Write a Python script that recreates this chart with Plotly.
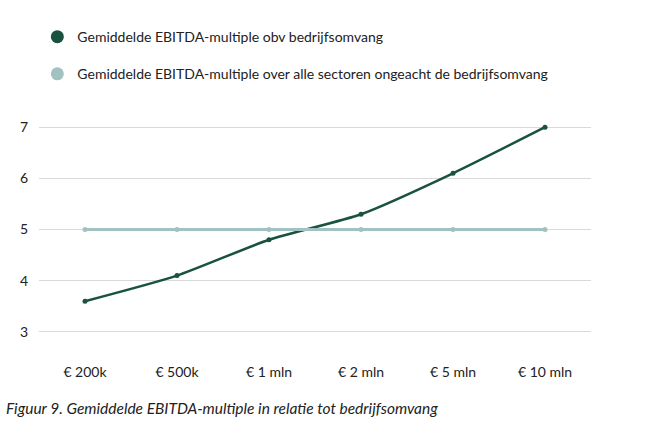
import plotly.graph_objects as go

categories = ["€ 200k", "€ 500k", "€ 1 mln", "€ 2 mln", "€ 5 mln", "€ 10 mln"]
multiple_by_size = [3.6, 4.1, 4.8, 5.3, 6.1, 7.0]
multiple_all_sectors = [5.0, 5.0, 5.0, 5.0, 5.0, 5.0]

series_names = [
    "Gemiddelde EBITDA-multiple obv bedrijfsomvang",
    "Gemiddelde EBITDA-multiple over alle sectoren ongeacht de bedrijfsomvang",
]

DARK_GREEN = "#1a5240"
LIGHT_TEAL = "#a2c1c1"
FONT = "Lato, Noto Sans, sans-serif"

fig = go.Figure()

fig.add_trace(
    go.Scatter(
        x=categories,
        y=multiple_by_size,
        mode="lines+markers",
        showlegend=False,
        line=dict(color=DARK_GREEN, width=2.5, shape="spline", smoothing=0.6),
        marker=dict(color=DARK_GREEN, size=5),
    )
)
fig.add_trace(
    go.Scatter(
        x=categories,
        y=multiple_all_sectors,
        mode="lines+markers",
        showlegend=False,
        line=dict(color=LIGHT_TEAL, width=3),
        marker=dict(color=LIGHT_TEAL, size=5),
    )
)

# legend entries: circle only, no line
for name, colour, group in zip(series_names, [DARK_GREEN, LIGHT_TEAL], ["a", "b"]):
    fig.add_trace(
        go.Scatter(
            x=[None],
            y=[None],
            mode="markers",
            name=name,
            legendgroup=group,
            marker=dict(color=colour, size=13),
        )
    )

fig.update_layout(
    width=668,
    height=428,
    margin=dict(l=39, r=77, t=117, b=68),
    paper_bgcolor="white",
    plot_bgcolor="white",
    font=dict(family=FONT, size=14, color="#222222"),
    legend=dict(
        x=-0.003,
        y=1.111,
        xref="paper",
        yref="paper",
        xanchor="left",
        yanchor="bottom",
        orientation="v",
        tracegroupgap=16,
        itemwidth=30,
        font=dict(size=14, color="#222222"),
        bgcolor="rgba(0,0,0,0)",
    ),
    xaxis=dict(
        type="category",
        range=[-0.5, 5.5],
        showgrid=False,
        showline=False,
        ticks="",
        tickangle=0,
        ticklabelstandoff=2,
    ),
    yaxis=dict(
        range=[2.45, 7.2],
        tickvals=[3, 4, 5, 6, 7],
        showgrid=True,
        gridcolor="#d9d9d9",
        gridwidth=1,
        zeroline=False,
        showline=False,
        ticks="",
        ticklabelstandoff=10,
    ),
    annotations=[
        dict(
            text="<i>Figuur 9. Gemiddelde EBITDA-multiple in relatie tot bedrijfsomvang</i>",
            xref="paper",
            yref="paper",
            x=0,
            y=0,
            xanchor="left",
            yanchor="top",
            xshift=-35,
            yshift=-37,
            showarrow=False,
            font=dict(size=15.5, color="#222222"),
        )
    ],
)

fig.write_html(
    "out.html",
    config={"displayModeBar": False},
    post_script="document.body.style.margin = '0';",
)
